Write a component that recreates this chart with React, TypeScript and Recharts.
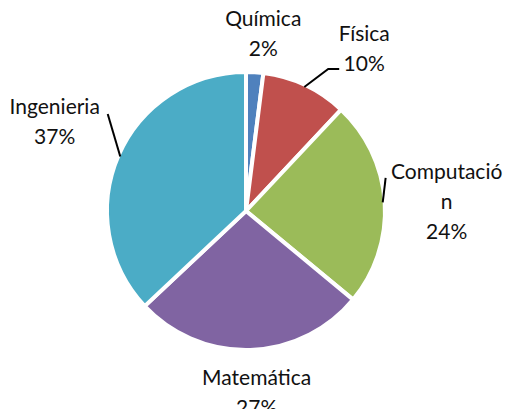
import React from "react";
import { Cell, Pie, PieChart } from "recharts";

const areas = ["Química", "Física", "Computación", "Matemática", "Ingeniería"];
const shares = [2, 10, 24, 27, 37];
const colors = ["#4F81BD", "#C0504D", "#9BBB59", "#8064A2", "#4BACC6"];
// how Excel wrapped the labels in the picture
const labelLines = [["Química"], ["Física"], ["Computació", "n"], ["Matemática"], ["Ingenieria"]];

const data = areas.map((name, i) => ({ name, value: shares[i] }));

// label placement: radial gap from the rim plus a nudge; leader points are relative to label centre
const labelLayout: { gap: number; nx: number; ny: number; leader?: [number, number][] }[] = [
  { gap: 40, nx: 6, ny: 0 },
  { gap: 40, nx: 42, ny: -2, leader: [[-36, 22], [-25, 22]] },
  { gap: 40, nx: 22, ny: 0, leader: [[-61, -22]] },
  { gap: 40, nx: 5, ny: 1 },
  { gap: 40, nx: -27, ny: -20, leader: [[53, -6]] },
];

const RAD = Math.PI / 180;
const FONT = "Lato, 'Noto Sans', sans-serif";
const LINE_H = 30;

function polar(cx: number, cy: number, r: number, angle: number) {
  return { x: cx + r * Math.cos(angle * RAD), y: cy - r * Math.sin(angle * RAD) };
}

function renderLabel(props: any) {
  const { cx, cy, midAngle, outerRadius, index, value } = props;
  const layout = labelLayout[index];
  const base = polar(cx, cy, outerRadius + layout.gap, midAngle);
  const lx = base.x + layout.nx;
  const ly = base.y + layout.ny;
  const lines = [...labelLines[index], `${value}%`];
  const top = ly - ((lines.length - 1) * LINE_H) / 2;
  let path = "";
  if (layout.leader) {
    const start = polar(cx, cy, outerRadius - 2, midAngle);
    path = `M${start.x},${start.y}` + layout.leader.map(([dx, dy]) => ` L${lx + dx},${ly + dy}`).join("");
  }
  return (
    <g key={`lbl-${index}`}>
      {path && <path d={path} stroke="#000" strokeWidth={2} fill="none" />}
      <text x={lx} y={top} textAnchor="middle" dominantBaseline="central" fill="#111" fontSize={21} fontFamily={FONT}>
        {lines.map((t, i) => (
          <tspan key={i} x={lx} y={top + i * LINE_H}>
            {t}
          </tspan>
        ))}
      </text>
    </g>
  );
}

export default function App() {
  if (typeof document !== "undefined") document.body.style.margin = "0";
  return (
    <div style={{ width: 505, height: 409, background: "#fff" }}>
      <PieChart width={505} height={409} margin={{ top: 0, right: 0, bottom: 0, left: 0 }}>
        <Pie
          data={data}
          dataKey="value"
          nameKey="name"
          cx={246}
          cy={211}
          outerRadius={139}
          startAngle={90}
          endAngle={-270}
          stroke="#fff"
          strokeWidth={4}
          label={renderLabel}
          labelLine={false}
          isAnimationActive={false}
        >
          {data.map((d, i) => (
            <Cell key={d.name} fill={colors[i]} />
          ))}
        </Pie>
      </PieChart>
    </div>
  );
}
